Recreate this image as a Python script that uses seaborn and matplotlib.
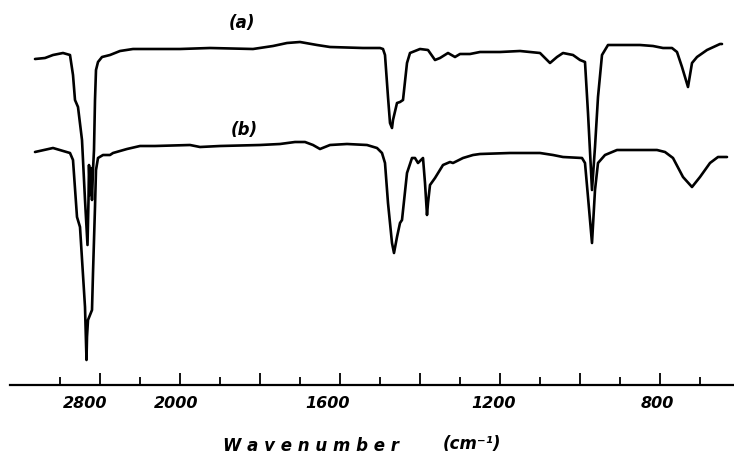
import numpy as np
import pandas as pd
import matplotlib
matplotlib.use("Agg")
import matplotlib.pyplot as plt
import matplotlib.transforms as mtrans
from matplotlib.ticker import FixedLocator, FixedFormatter, NullFormatter
import seaborn as sns

# ---- data: IR spectra (wavenumber cm^-1, pen height, arbitrary units) ----
wn_a = [3125, 3075, 3035, 2985, 2950, 2935, 2925, 2910, 2890, 2875, 2862.5, 2857.5, 2855, 2850,
        2845, 2840, 2835, 2830, 2825, 2820, 2810, 2780, 2700, 2600, 2470, 2200, 2000, 1925,
        1817.5, 1767.5, 1732.5, 1700, 1657.5, 1625, 1542.5, 1500, 1492.5, 1487.5, 1480, 1475,
        1470, 1467.5, 1457.5, 1450, 1442.5, 1432.5, 1425, 1400, 1380, 1362.5, 1350, 1330,
        1312.5, 1300, 1275, 1250, 1200, 1150, 1100, 1075, 1057.5, 1042.5, 1017.5, 1000, 987.5,
        980, 970, 962.5, 955, 945, 930, 892.5, 850, 817.5, 792.5, 770, 757.5, 745, 730, 720,
        707.5, 682.5, 650, 645]
t_a = [326, 327, 330, 332, 330, 310, 285, 278, 245, 185, 140, 185, 220, 190,
       217, 185, 215, 235, 285, 315, 323, 328, 330, 334, 336, 336, 336, 337,
       336, 339, 342, 343, 340, 338, 337, 337, 336, 330, 288, 262,
       257, 265, 282, 283, 285, 322, 332, 336, 335, 325, 327, 332,
       328, 331, 331, 333, 333, 334, 332, 322, 328, 332, 330, 325, 323,
       272, 195, 238, 288, 330, 340, 340, 340, 339, 337, 337, 333, 318, 298, 322,
       328, 335, 341, 341]

wn_b = [3125, 3035, 2950, 2935, 2915, 2900, 2875, 2867.5, 2865, 2860, 2840, 2835, 2825, 2820,
        2810, 2770, 2700, 2670, 2530, 2400, 2250, 1975, 1950, 1900, 1800, 1750, 1712.5, 1687.5,
        1667.5, 1650, 1625, 1582.5, 1532.5, 1507.5, 1495, 1487.5, 1480, 1470, 1465, 1457.5,
        1450, 1445, 1432.5, 1420, 1412.5, 1405, 1392.5, 1387.5, 1382.5, 1380, 1375, 1362.5,
        1342.5, 1325, 1317.5, 1292.5, 1267.5, 1250, 1175, 1100, 1067.5, 1042.5, 995, 987.5,
        980, 970, 962.5, 955, 937.5, 907.5, 867.5, 807.5, 787.5, 767.5, 742.5, 720, 700, 675,
        655, 632.5]
t_b = [233, 237, 232, 225, 168, 158, 78, 25, 48, 65, 75, 112, 178, 215,
       227, 230, 230, 232, 236, 239, 239, 240, 238, 239, 240, 241, 243, 243,
       240, 236, 240, 241, 240, 237, 232, 222, 182, 142, 132, 148,
       162, 165, 212, 227, 227, 222, 227, 202, 170, 182, 200, 207,
       220, 223, 222, 227, 230, 231, 232, 232, 230, 228, 227, 222,
       188, 142, 195, 222, 230, 235, 235, 235, 233, 227, 208, 198, 208, 222,
       228, 228]

trace_labels = ["(a)", "(b)"]
major_ticks = [2800, 2000, 1800, 1600, 1400, 1200, 1000, 800]
major_labels = ["2800", "2000", "", "1600", "", "1200", "", "800"]
minor_ticks = [3000, 2400, 1900, 1700, 1500, 1300, 1100, 900, 700]

# ---- piecewise-linear chart-paper scale (scale change at 2000 and 2800 cm^-1) ----
_wn_bp = np.array([500.0, 2000.0, 2800.0, 3400.0])
_pos_bp = np.array([780.0, 180.0, 100.0, -20.0])

def fwd(w):
    return np.interp(w, _wn_bp, _pos_bp)

def inv(p):
    return np.interp(p, _pos_bp[::-1], _wn_bp[::-1])

df = pd.concat([
    pd.DataFrame({"wn": wn_a, "T": t_a, "trace": "a"}),
    pd.DataFrame({"wn": wn_b, "T": t_b, "trace": "b"}),
], ignore_index=True)

sns.set_style("white")
W, H = 734, 455
fig = plt.figure(figsize=(W / 100, H / 100), dpi=100)
ax = fig.add_axes([10 / W, 70 / H, 724 / W, 385 / H])

sns.lineplot(data=df, x="wn", y="T", hue="trace", units="trace", estimator=None,
             sort=False, palette={"a": "black", "b": "black"}, legend=False,
             linewidth=1.9, ax=ax)
for ln in ax.lines:
    ln.set_solid_joinstyle("round")
    ln.set_solid_capstyle("round")

ax.set_xscale("function", functions=(fwd, inv))
ax.set_xlim(615, 3250)
ax.set_ylim(0, 385)

for s in ["left", "right", "top"]:
    ax.spines[s].set_visible(False)
ax.spines["bottom"].set_linewidth(1.6)
ax.spines["bottom"].set_color("black")
ax.set_yticks([])
ax.set_xlabel("")
ax.set_ylabel("")

ax.xaxis.set_major_locator(FixedLocator(major_ticks))
ax.xaxis.set_major_formatter(FixedFormatter(major_labels))
ax.xaxis.set_minor_locator(FixedLocator(minor_ticks))
ax.xaxis.set_minor_formatter(NullFormatter())
ax.tick_params(axis="x", which="major", direction="in", length=9, width=1.3,
               color="black", pad=8, labelsize=11.5, labelcolor="black", bottom=True)
ax.tick_params(axis="x", which="minor", direction="in", length=5.5, width=1.3,
               color="black", bottom=True)
for lbl in ax.get_xticklabels():
    lbl.set_fontweight("bold")
    lbl.set_fontstyle("italic")
    lbl.set_fontfamily("DejaVu Sans")

# hand-lettered labels sit slightly left of their ticks
label_shift_px = [-15, -4, 0, -12, 0, -6, 0, -3]
for tick, dx in zip(ax.xaxis.get_major_ticks(), label_shift_px):
    off = mtrans.ScaledTranslation(dx / 100, 0, fig.dpi_scale_trans)
    tick.label1.set_transform(tick.label1.get_transform() + off)

txt_kw = dict(fontweight="bold", fontstyle="italic", fontfamily="DejaVu Sans",
              color="black", ha="center", va="center")
fig.text(242 / W, 1 - 23 / H, trace_labels[0], fontsize=12, **txt_kw)
fig.text(244 / W, 1 - 130 / H, trace_labels[1], fontsize=12, **txt_kw)
fig.text(311 / W, 1 - 446 / H, "W a v e n u m b e r", fontsize=12, **txt_kw)
fig.text(472 / W, 1 - 444 / H, "(cm\u207b\u00b9)", fontsize=12, **txt_kw)

fig.savefig("out.png", dpi=100, facecolor="white")
